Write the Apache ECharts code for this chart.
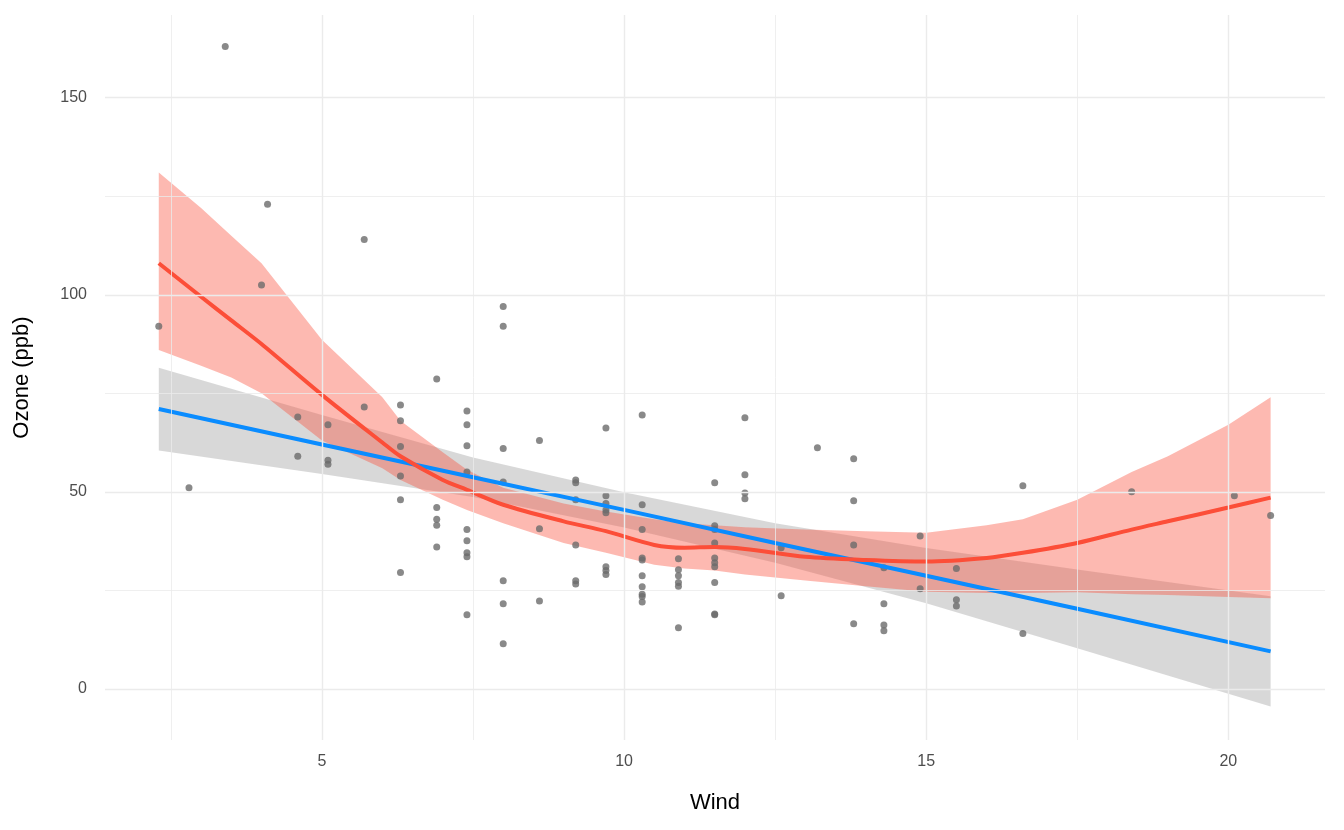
<!DOCTYPE html>
<html><head><meta charset="utf-8">
<script src="https://cdn.jsdelivr.net/npm/echarts@6/dist/echarts.min.js"></script>
<style>html,body{margin:0;background:#fff}#chart{width:1344px;height:830px}</style>
</head><body><div id="chart"></div>
<script>
// observed points: wind (mph), ozone (ppb)
var windPts = [2.3,3.4,2.8,4.0,4.1,4.6,4.6,5.1,5.1,5.1,5.7,5.7,
  6.3,6.3,6.3,6.3,6.3,6.3, 6.9,6.9,6.9,6.9,6.9,
  7.4,7.4,7.4,7.4,7.4,7.4,7.4,7.4,7.4, 8.0,8.0,8.0,8.0,8.0,8.0,8.0,
  8.6,8.6,8.6, 9.2,9.2,9.2,9.2,9.2,9.2, 9.7,9.7,9.7,9.7,9.7,9.7,9.7,9.7,
  10.3,10.3,10.3,10.3,10.3,10.3,10.3,10.3,10.3,10.3, 10.9,10.9,10.9,10.9,10.9,10.9,
  11.5,11.5,11.5,11.5,11.5,11.5,11.5,11.5,11.5,11.5, 12.0,12.0,12.0,12.0,
  12.6,12.6, 13.2, 13.8,13.8,13.8,13.8, 14.3,14.3,14.3,14.3, 14.9,14.9,
  15.5,15.5,15.5, 16.6,16.6, 18.4, 20.1, 20.7];
var ozonePts = [92,163,51,102.5,123,69,59,67,58,57,71.5,114,
  72,68,61.5,54,48,29.5, 78.6,46,43,41.5,36,
  70.5,67,61.7,55,40.4,37.6,34.5,33.5,18.8, 97,92,61,52.5,27.4,21.6,11.4,
  63,40.6,22.3, 53,52.3,48,36.5,27.4,26.6, 66.2,49,47,45.4,44.7,31,30,29,
  69.5,46.7,40.4,33.2,32.7,28.7,25.9,24,23.4,22, 33,30.2,28.7,27,26,15.5,
  52.3,41.4,40.4,37,33.2,32,31,27,19,18.8, 68.8,54.3,49.7,48.2,
  35.8,23.6, 61.2, 58.4,47.7,36.5,16.5, 30.7,21.6,16.2,14.7, 38.8,25.4,
  30.5,22.6,21, 51.5,14, 50, 49, 44];

// linear fit with confidence band
var linX = [2.3,5,7.5,10,12.5,15,17.5,20.7];
var linY = [71,62,53.7,45.4,37,28.7,20.3,9.5];
var linLo = [60.5,54.5,48.7,40.9,32,21.7,10.3,-4.5];
var linHi = [81.5,69.5,58.7,49.9,42,35.7,30.3,23.5];

// loess fit with confidence band
var loX = [2.3,3,3.5,4,5,6,6.3,7,7.4,8,9,9.7,10.5,11,11.5,12,13,14,15,16,16.6,17.5,18.4,19,20,20.7];
var loY = [108,99.5,93.5,87.5,74.6,62.5,59,53,50.5,46.7,42.5,40,36.5,35.8,36,35.5,33.5,32.7,32.3,33.2,34.5,37,40.4,42.5,46,48.5];
var loLo = [86,82,79,75,63,56,53,48,45.4,42,37,34.5,31.5,30.5,30,29,27.5,26,24.6,24.3,24.3,24.5,24,23.8,23.3,23];
var loHi = [131,122,115,108,88.6,74,68,60,55.6,51,47,45,43,42,41.5,41,40.4,40,39.6,41.5,43,48,55,59,67,74];

var gridX = [2.5,5,7.5,10,12.5,15,17.5,20];
var gridY = [0,25,50,75,100,125,150];
var majorX = [5,10,15,20];
var majorY = [0,50,100,150];

function pairs(xs, ys) { return xs.map(function (x, i) { return [x, ys[i]]; }); }

function band(xs, lo, hi, color) {
  return {
    type: 'custom', data: [0], silent: true,
    renderItem: function (params, api) {
      var pts = [];
      xs.forEach(function (x, i) { pts.push(api.coord([x, lo[i]])); });
      for (var i = xs.length - 1; i >= 0; i--) pts.push(api.coord([xs[i], hi[i]]));
      return { type: 'polygon', shape: { points: pts }, style: { fill: color } };
    }
  };
}

var gridLines = gridX.map(function (v) {
  return { xAxis: v, lineStyle: { color: '#ebebeb', type: 'solid', width: majorX.indexOf(v) >= 0 ? 1.4 : 0.8 } };
}).concat(gridY.map(function (v) {
  return { yAxis: v, lineStyle: { color: '#ebebeb', type: 'solid', width: majorY.indexOf(v) >= 0 ? 1.4 : 0.8 } };
}));

var chart = echarts.init(document.getElementById('chart'));
chart.setOption({
  animation: false,
  textStyle: { fontFamily: 'Liberation Sans, Arial' },
  grid: { left: 105, right: 19, top: 15, bottom: 90 },
  xAxis: {
    type: 'value', min: 1.41, max: 21.6,
    name: 'Wind', nameLocation: 'middle', nameGap: 52,
    nameTextStyle: { fontSize: 22, color: '#000' },
    axisLine: { show: false }, axisTick: { show: false }, splitLine: { show: false },
    axisLabel: { customValues: majorX, fontSize: 16, color: '#4d4d4d', margin: 14 }
  },
  yAxis: {
    type: 'value', min: -13, max: 171,
    name: 'Ozone (ppb)', nameLocation: 'middle', nameGap: 72,
    nameTextStyle: { fontSize: 22, color: '#000' },
    axisLine: { show: false }, axisTick: { show: false }, splitLine: { show: false },
    axisLabel: { customValues: majorY, fontSize: 16, color: '#4d4d4d', margin: 18 }
  },
  series: [
    { type: 'line', data: [], silent: true,
      markLine: { symbol: 'none', silent: true, label: { show: false }, data: gridLines } },
    band(linX, linLo, linHi, 'rgba(153,153,153,0.38)'),
    { type: 'line', data: pairs(linX, linY), symbol: 'none', lineStyle: { color: '#0a8cff', width: 4 } },
    { type: 'scatter', data: pairs(windPts, ozonePts), symbolSize: 7, itemStyle: { color: '#6b6b6b' } },
    band(loX, loLo, loHi, 'rgba(250,80,60,0.4)'),
    { type: 'line', data: pairs(loX, loY), symbol: 'none', smooth: 0.3, lineStyle: { color: '#fc4e38', width: 4 } }
  ]
});
</script></body></html>
